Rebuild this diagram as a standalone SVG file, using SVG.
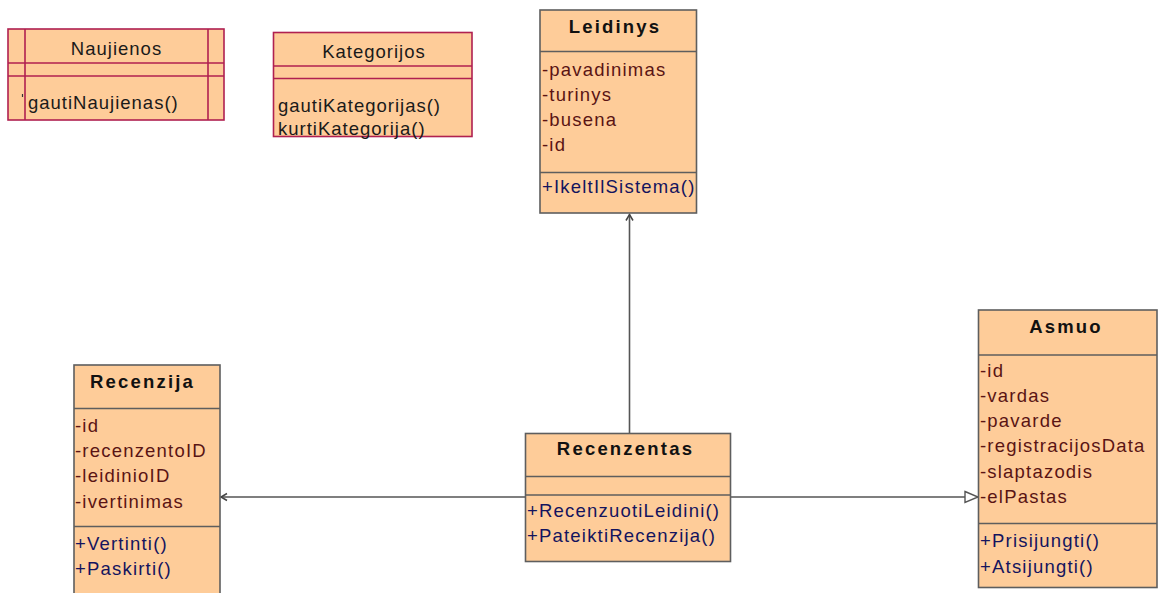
<svg xmlns="http://www.w3.org/2000/svg" width="1161" height="593" viewBox="0 0 1161 593">
  <style>
    .box { fill: #fecc99; stroke: #5e5e5e; stroke-width: 1.6; }
    .box2 { fill: #fecc99; stroke: #b02050; stroke-width: 1.6; }
    .div { stroke: #5e5e5e; stroke-width: 1.6; fill: none; }
    .div2 { stroke: #b02050; stroke-width: 1.6; fill: none; }
    text { font-family: "Liberation Sans", Arial, sans-serif; font-size: 18.5px; }
    .title { font-weight: bold; fill: #111; letter-spacing: 2.2px; text-anchor: middle; }
    .plain { fill: #1a1a1a; letter-spacing: 1px; }
    .ptitle { fill: #1a1a1a; letter-spacing: 1px; text-anchor: middle; }
    .attr { fill: #5a1414; letter-spacing: 1.2px; }
    .op { fill: #14145e; letter-spacing: 1.2px; }
    .conn { stroke: #555; stroke-width: 1.6; fill: none; }
  </style>
  <defs>
    <!-- open navigability arrow; tip sits on the line end -->
    <marker id="nav" markerWidth="10" markerHeight="10" refX="8" refY="5" orient="auto" markerUnits="userSpaceOnUse">
      <path d="M2,1.5 L8,5 L2,8.5" fill="none" stroke="#444" stroke-width="1.5"/>
    </marker>
    <!-- hollow generalization triangle -->
    <marker id="gen" markerWidth="16" markerHeight="14" refX="14" refY="7" orient="auto" markerUnits="userSpaceOnUse">
      <path d="M1,1.5 L14,7 L1,12.5 Z" fill="#ffffff" stroke="#555" stroke-width="1.4"/>
    </marker>
  </defs>
  <rect width="1161" height="593" fill="#ffffff"/>

  <!-- connectors -->
  <g id="connectors">
    <line class="conn" x1="629.5" y1="433.5" x2="629.5" y2="214.5" marker-end="url(#nav)"/>
    <line class="conn" x1="525.5" y1="497" x2="221" y2="497" marker-end="url(#nav)"/>
    <line class="conn" x1="730.5" y1="497" x2="978" y2="497" marker-end="url(#gen)"/>
  </g>

  <!-- Naujienos -->
  <g id="Naujienos">
    <rect class="box2" x="8" y="29" width="216" height="91"/>
    <line class="div2" x1="8" y1="63" x2="224" y2="63"/>
    <line class="div2" x1="8" y1="76" x2="224" y2="76"/>
    <line class="div2" x1="25" y1="29" x2="25" y2="120"/>
    <line class="div2" x1="208" y1="29" x2="208" y2="120"/>
    <line x1="22.5" y1="94" x2="22.5" y2="97" stroke="#333" stroke-width="1.2"/>
    <text class="ptitle" x="116.5" y="55">Naujienos</text>
    <text class="plain" x="28" y="109">gautiNaujienas()</text>
  </g>

  <!-- Kategorijos -->
  <g id="Kategorijos">
    <rect class="box2" x="273.5" y="32.5" width="198.5" height="104"/>
    <line class="div2" x1="273.5" y1="66" x2="472" y2="66"/>
    <line class="div2" x1="273.5" y1="78.5" x2="472" y2="78.5"/>
    <text class="ptitle" x="374" y="58">Kategorijos</text>
    <text class="plain" x="278" y="112">gautiKategorijas()</text>
    <text class="plain" x="278" y="135">kurtiKategorija()</text>
  </g>

  <!-- Leidinys -->
  <g id="Leidinys">
    <rect class="box" x="540" y="10" width="156.5" height="203"/>
    <line class="div" x1="540" y1="51.5" x2="696.5" y2="51.5"/>
    <line class="div" x1="540" y1="172.5" x2="696.5" y2="172.5"/>
    <text class="title" x="615" y="33">Leidinys</text>
    <text class="attr" x="542" y="76">-pavadinimas</text>
    <text class="attr" x="542" y="101">-turinys</text>
    <text class="attr" x="542" y="126">-busena</text>
    <text class="attr" x="542" y="151">-id</text>
    <text class="op" x="542" y="193">+IkeltIlSistema()</text>
  </g>

  <!-- Recenzija -->
  <g id="Recenzija">
    <rect class="box" x="74" y="365" width="146" height="240"/>
    <line class="div" x1="74" y1="408.5" x2="220" y2="408.5"/>
    <line class="div" x1="74" y1="526.5" x2="220" y2="526.5"/>
    <text class="title" x="142.5" y="388">Recenzija</text>
    <text class="attr" x="75" y="432">-id</text>
    <text class="attr" x="75" y="457">-recenzentoID</text>
    <text class="attr" x="75" y="482">-leidinioID</text>
    <text class="attr" x="75" y="507.5">-ivertinimas</text>
    <text class="op" x="75" y="549.5">+Vertinti()</text>
    <text class="op" x="75" y="575">+Paskirti()</text>
  </g>

  <!-- Recenzentas -->
  <g id="Recenzentas">
    <rect class="box" x="525.5" y="433.5" width="205" height="128"/>
    <line class="div" x1="525.5" y1="476.5" x2="730.5" y2="476.5"/>
    <line class="div" x1="525.5" y1="495" x2="730.5" y2="495"/>
    <text class="title" x="625.5" y="455">Recenzentas</text>
    <text class="op" x="527" y="517">+RecenzuotiLeidini()</text>
    <text class="op" x="527" y="542">+PateiktiRecenzija()</text>
  </g>

  <!-- Asmuo -->
  <g id="Asmuo">
    <rect class="box" x="978.5" y="310" width="178.5" height="277.5"/>
    <line class="div" x1="978.5" y1="355" x2="1157" y2="355"/>
    <line class="div" x1="978.5" y1="523.5" x2="1157" y2="523.5"/>
    <text class="title" x="1066" y="333">Asmuo</text>
    <text class="attr" x="980" y="377">-id</text>
    <text class="attr" x="980" y="402">-vardas</text>
    <text class="attr" x="980" y="427">-pavarde</text>
    <text class="attr" x="980" y="452">-registracijosData</text>
    <text class="attr" x="980" y="478">-slaptazodis</text>
    <text class="attr" x="980" y="503">-elPastas</text>
    <text class="op" x="980" y="547">+Prisijungti()</text>
    <text class="op" x="980" y="573">+Atsijungti()</text>
  </g>
</svg>
